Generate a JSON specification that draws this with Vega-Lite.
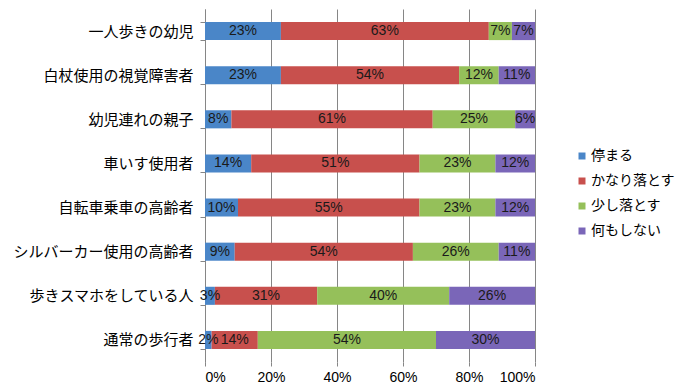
{
  "$schema": "https://vega.github.io/schema/vega-lite/v6.json",
  "width": 330,
  "height": 353,
  "autosize": "none",
  "padding": {"left": 205, "top": 9, "right": 163, "bottom": 26},
  "background": "white",
  "config": {
    "font": "Noto Sans CJK JP",
    "view": {"stroke": null}
  },
  "data": {
    "values": [
      {"cat": "一人歩きの幼児", "resp": "停まる", "v": 23},
      {"cat": "一人歩きの幼児", "resp": "かなり落とす", "v": 63},
      {"cat": "一人歩きの幼児", "resp": "少し落とす", "v": 7},
      {"cat": "一人歩きの幼児", "resp": "何もしない", "v": 7},
      {"cat": "白杖使用の視覚障害者", "resp": "停まる", "v": 23},
      {"cat": "白杖使用の視覚障害者", "resp": "かなり落とす", "v": 54},
      {"cat": "白杖使用の視覚障害者", "resp": "少し落とす", "v": 12},
      {"cat": "白杖使用の視覚障害者", "resp": "何もしない", "v": 11},
      {"cat": "幼児連れの親子", "resp": "停まる", "v": 8},
      {"cat": "幼児連れの親子", "resp": "かなり落とす", "v": 61},
      {"cat": "幼児連れの親子", "resp": "少し落とす", "v": 25},
      {"cat": "幼児連れの親子", "resp": "何もしない", "v": 6},
      {"cat": "車いす使用者", "resp": "停まる", "v": 14},
      {"cat": "車いす使用者", "resp": "かなり落とす", "v": 51},
      {"cat": "車いす使用者", "resp": "少し落とす", "v": 23},
      {"cat": "車いす使用者", "resp": "何もしない", "v": 12},
      {"cat": "自転車乗車の高齢者", "resp": "停まる", "v": 10},
      {"cat": "自転車乗車の高齢者", "resp": "かなり落とす", "v": 55},
      {"cat": "自転車乗車の高齢者", "resp": "少し落とす", "v": 23},
      {"cat": "自転車乗車の高齢者", "resp": "何もしない", "v": 12},
      {"cat": "シルバーカー使用の高齢者", "resp": "停まる", "v": 9},
      {"cat": "シルバーカー使用の高齢者", "resp": "かなり落とす", "v": 54},
      {"cat": "シルバーカー使用の高齢者", "resp": "少し落とす", "v": 26},
      {"cat": "シルバーカー使用の高齢者", "resp": "何もしない", "v": 11},
      {"cat": "歩きスマホをしている人", "resp": "停まる", "v": 3},
      {"cat": "歩きスマホをしている人", "resp": "かなり落とす", "v": 31},
      {"cat": "歩きスマホをしている人", "resp": "少し落とす", "v": 40},
      {"cat": "歩きスマホをしている人", "resp": "何もしない", "v": 26},
      {"cat": "通常の歩行者", "resp": "停まる", "v": 2},
      {"cat": "通常の歩行者", "resp": "かなり落とす", "v": 14},
      {"cat": "通常の歩行者", "resp": "少し落とす", "v": 54},
      {"cat": "通常の歩行者", "resp": "何もしない", "v": 30}
    ]
  },
  "transform": [
    {"calculate": "indexof(['停まる','かなり落とす','少し落とす','何もしない'], datum.resp)", "as": "ord"},
    {"stack": "v", "groupby": ["cat"], "sort": [{"field": "ord", "order": "ascending"}], "as": ["v0", "v1"]},
    {"calculate": "(datum.v0 + datum.v1) / 2", "as": "mid"},
    {"calculate": "datum.v + '%'", "as": "lab"}
  ],
  "encoding": {
    "y": {
      "field": "cat",
      "type": "nominal",
      "sort": ["一人歩きの幼児", "白杖使用の視覚障害者", "幼児連れの親子", "車いす使用者", "自転車乗車の高齢者", "シルバーカー使用の高齢者", "歩きスマホをしている人", "通常の歩行者"],
      "scale": {"paddingInner": 0.59, "paddingOuter": 0.295},
      "axis": {
        "title": null,
        "tickBand": "extent",
        "tickSize": 5,
        "tickColor": "#868686",
        "domainColor": "#868686",
        "labelFontSize": 15,
        "labelColor": "#000000",
        "labelPadding": 7,
        "labelFont": "Noto Sans CJK JP",
        "labelLimit": 200
      }
    }
  },
  "layer": [
    {
      "mark": {"type": "bar"},
      "encoding": {
        "x": {
          "field": "v0",
          "type": "quantitative",
          "scale": {"domain": [0, 100], "nice": false},
          "axis": {
            "title": null,
            "values": [0, 20, 40, 60, 80, 100],
            "labelExpr": "datum.value + '%'",
            "grid": true,
            "gridColor": "#868686",
            "domain": false,
            "tickSize": 4,
            "tickColor": "#868686",
            "labelFontSize": 14,
            "labelColor": "#000000",
            "labelPadding": 4,
            "labelFont": "Liberation Sans"
          }
        },
        "x2": {"field": "v1"},
        "color": {
          "field": "resp",
          "type": "nominal",
          "scale": {
            "domain": ["停まる", "かなり落とす", "少し落とす", "何もしない"],
            "range": ["#4A86C8", "#C8504D", "#95C05A", "#7A66B8"]
          },
          "legend": {
            "title": null,
            "orient": "none",
            "legendX": 370,
            "legendY": 140,
            "symbolType": "square",
            "symbolSize": 49,
            "labelFontSize": 14,
            "labelColor": "#000000",
            "rowPadding": 11,
            "labelOffset": 2,
            "labelFont": "Noto Sans CJK JP"
          }
        }
      }
    },
    {
      "mark": {"type": "text", "fontSize": 14, "color": "#1a1a1a", "baseline": "middle", "align": "center", "font": "Liberation Sans"},
      "encoding": {
        "x": {"field": "mid", "type": "quantitative"},
        "text": {"field": "lab"}
      }
    }
  ]
}
